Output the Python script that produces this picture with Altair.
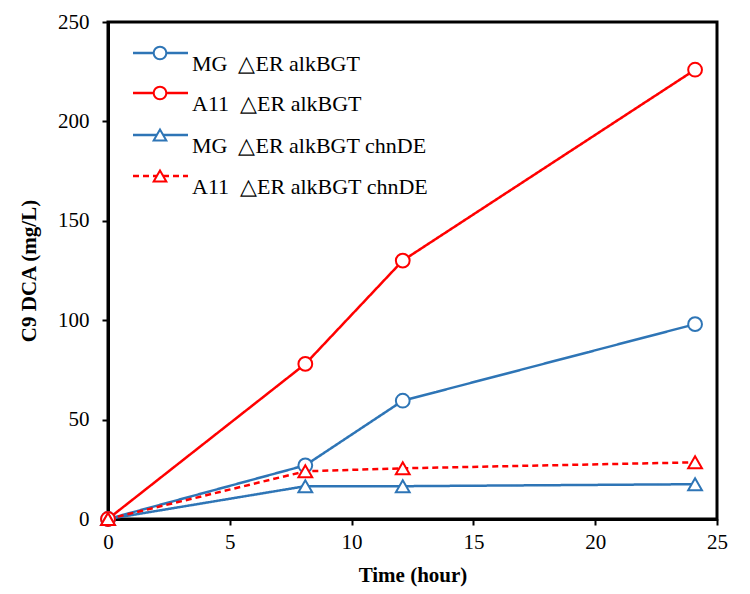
import altair as alt
import pandas as pd

time = [0, 8.1, 12.1, 24.1]
series = ["MG\u00a0\u00a0\u25b3ER alkBGT", "A11\u00a0\u00a0\u25b3ER alkBGT",
          "MG\u00a0\u00a0\u25b3ER alkBGT chnDE", "A11\u00a0\u00a0\u25b3ER alkBGT chnDE"]
mg_alk = [0, 27, 59.5, 98]
a11_alk = [0, 78, 130, 226]
mg_chn = [0, 16.5, 16.5, 17.5]
a11_chn = [0, 24, 25.5, 28.5]
colors = ["#2E75B6", "#FF0000", "#2E75B6", "#FF0000"]
shapes = ["circle", "circle", "triangle-up", "triangle-up"]
dashes = [[1, 0], [1, 0], [1, 0], [6, 4]]

rows = []
for s, vals in zip(series, [mg_alk, a11_alk, mg_chn, a11_chn]):
    for t, v in zip(time, vals):
        rows.append({"series": s, "time": t, "value": v})
df = pd.DataFrame(rows)

FONT = "Liberation Serif"
xenc = alt.X("time:Q", scale=alt.Scale(domain=[0, 25]),
             axis=alt.Axis(values=[0, 5, 10, 15, 20, 25], title="Time (hour)", labelFlush=False))
yenc = alt.Y("value:Q", scale=alt.Scale(domain=[0, 250]),
             axis=alt.Axis(values=[0, 50, 100, 150, 200, 250], title="C9 DCA (mg/L)", labelFlush=False))
cenc = alt.Color("series:N", scale=alt.Scale(domain=series, range=colors), legend=None)

lines = alt.Chart(df).mark_line(strokeWidth=2.5).encode(
    x=xenc, y=yenc, color=cenc,
    strokeDash=alt.StrokeDash("series:N", scale=alt.Scale(domain=series, range=dashes), legend=None),
    detail="series:N",
)
points = alt.Chart(df).mark_point(filled=False, fill="white", fillOpacity=1, size=190, strokeWidth=2, opacity=1).encode(
    x=xenc, y=yenc, stroke=alt.Stroke("series:N", scale=alt.Scale(domain=series, range=colors), legend=None),
    shape=alt.Shape("series:N", scale=alt.Scale(domain=series, range=shapes), legend=None),
)

one = pd.DataFrame({"a": [0]})
leg_layers = []
ys = [31, 71, 113, 154]
for i, s in enumerate(series):
    leg_layers.append(alt.Chart(one).mark_rule(color=colors[i], strokeWidth=2.5, strokeDash=dashes[i]).encode(
        x=alt.value(25), x2=alt.value(80), y=alt.value(ys[i])))
    leg_layers.append(alt.Chart(one).mark_point(shape=shapes[i], color=colors[i], filled=False, fill="white",
                                                 fillOpacity=1, size=160, strokeWidth=2, opacity=1).encode(
        x=alt.value(52), y=alt.value(ys[i])))
    leg_layers.append(alt.Chart(one).mark_text(text=s, font=FONT, fontSize=22, align="left", baseline="middle",
                                                color="black").encode(
        x=alt.value(84), y=alt.value(ys[i] + 11)))

chart = alt.layer(lines, points, *leg_layers).properties(
    width=609, height=497,
    autosize=alt.AutoSizeParams(type="none"),
    padding={"left": 100, "top": 14, "right": 20, "bottom": 70},
).configure_view(
    stroke="black", strokeWidth=3
).configure_axis(
    labelFont=FONT, titleFont=FONT, labelFontSize=21, titleFontSize=21,
    labelColor="black", titleColor="black", titleFontWeight="bold",
    domainColor="black", domainWidth=3, tickColor="black", tickWidth=2, tickSize=6,
    grid=False,
).configure_axisY(titlePadding=18, labelPadding=13).configure_axisX(titlePadding=12, labelPadding=6)

chart.save("out.html", embed_options={"renderer": "svg", "actions": False})
